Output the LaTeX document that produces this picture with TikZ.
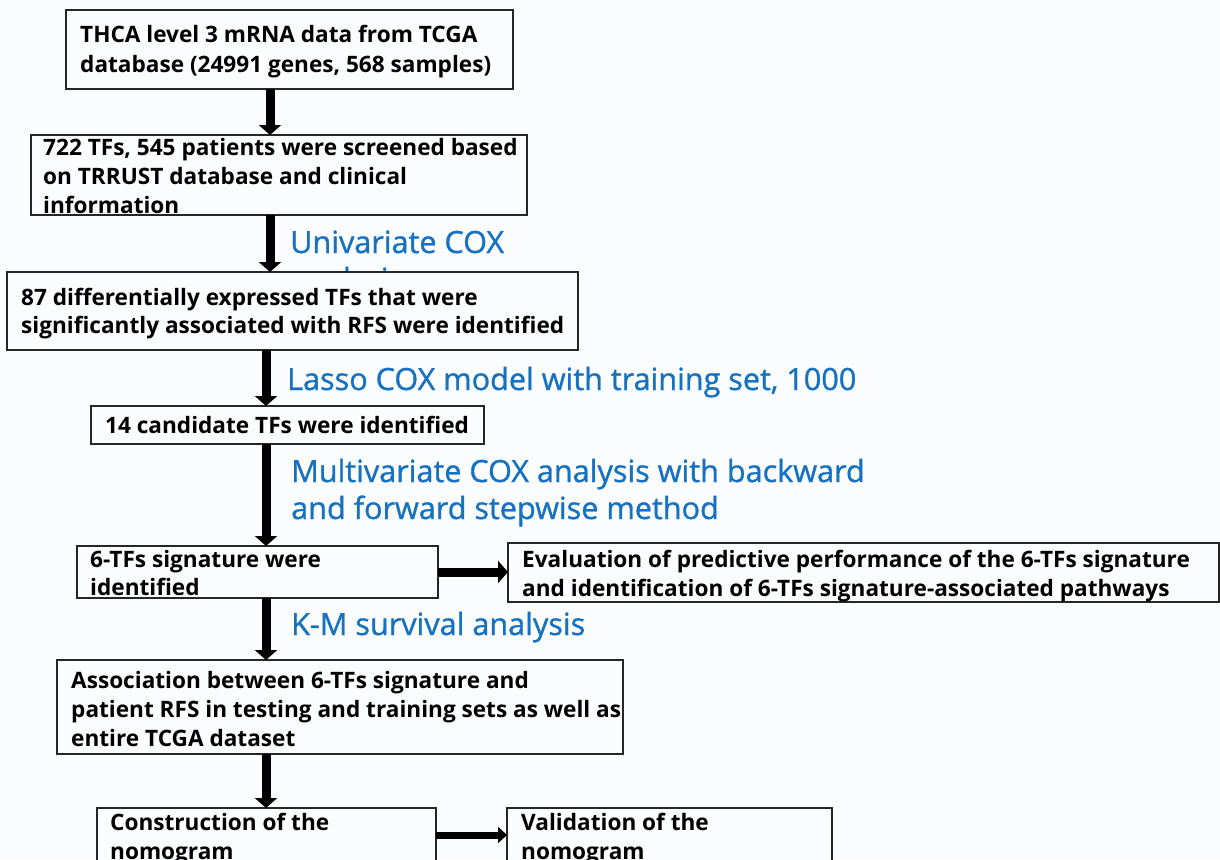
\documentclass[tikz,border=0pt]{standalone}
\usepackage{fontspec}
\setmainfont{Open Sans}
\newfontfamily\lblfont[FakeBold=1]{Open Sans}
\usetikzlibrary{arrows.meta}
\definecolor{bg}{RGB}{251,252,254}
\definecolor{lbl}{RGB}{22,114,192}
\tikzset{
  box/.style={draw=black!85,line width=1.8pt,fill=bg,anchor=north west,inner sep=0pt,outer sep=0pt},
  txt/.style={anchor=base west,inner sep=0pt,font=\fontsize{22.6}{26}\selectfont\bfseries},
  lab/.style={anchor=base west,inner sep=0pt,text=lbl,font=\lblfont\fontsize{30.6}{35}\selectfont},
  arr/.style={line width=9pt,-{Triangle[width=22pt,length=10pt]}},
  arrh/.style={line width=7pt,-{Triangle[width=16pt,length=9pt]}},
}
\begin{document}
\begin{tikzpicture}[x=1pt,y=-1pt]
\useasboundingbox (0,0) rectangle (1220,859);
\clip (0,0) rectangle (1220,859);
\fill[bg] (0,0) rectangle (1220,859);
% blue labels
\node[lab] (l1a) at (290,253) {Univariate COX};
\node[lab] (l1b) at (290,290) {analysis};
\node[lab] (l2) at (287,390) {Lasso COX model with training set, 1000};
\node[lab] (l3a) at (291,482) {Multivariate COX analysis with backward};
\node[lab] (l3b) at (291,519) {and forward stepwise method};
\node[lab] (l4) at (291,635) {K-M survival analysis};
% boxes
\node[box,minimum width=447pt,minimum height=79pt] (b1) at (66,10) {};
\node[box,minimum width=496pt,minimum height=80pt] (b2) at (31,135) {};
\node[box,minimum width=571pt,minimum height=78pt] (b3) at (7,272) {};
\node[box,minimum width=393pt,minimum height=38pt] (b4) at (91,406) {};
\node[box,minimum width=361pt,minimum height=52pt] (b5) at (77,546) {};
\node[box,minimum width=711pt,minimum height=59pt] (b6) at (508,543) {};
\node[box,minimum width=566pt,minimum height=94pt] (b7) at (57,660) {};
\node[box,minimum width=339pt,minimum height=80pt] (b8) at (97,808) {};
\node[box,minimum width=325pt,minimum height=80pt] (b9) at (507,808) {};
% box texts
\node[txt] (t1a) at (80,43) {THCA level 3 mRNA data from TCGA};
\node[txt] (t1b) at (80,73) {database (24991 genes, 568 samples)};
\node[txt] (t2a) at (43,155) {722 TFs, 545 patients were screened based};
\node[txt] (t2b) at (43,184) {on TRRUST database and clinical};
\node[txt] (t2c) at (43,213) {information};
\node[txt] (t3a) at (21,305) {87 differentially expressed TFs that were};
\node[txt] (t3b) at (21,333) {significantly associated with RFS were identified};
\node[txt] (t4) at (105,433) {14 candidate TFs were identified};
\node[txt] (t5a) at (90,567) {6-TFs signature were};
\node[txt] (t5b) at (90,595) {identified};
\node[txt] (t6a) at (522,567) {Evaluation of predictive performance of the 6-TFs signature};
\node[txt] (t6b) at (522,596) {and identification of 6-TFs signature-associated pathways};
\node[txt] (t7a) at (71,688) {Association between 6-TFs signature and};
\node[txt] (t7b) at (71,717) {patient RFS in testing and training sets as well as};
\node[txt] (t7c) at (71,746) {entire TCGA dataset};
\node[txt] (t8a) at (110,830) {Construction of the};
\node[txt] (t8b) at (110,859) {nomogram};
\node[txt] (t9a) at (521,830) {Validation of the};
\node[txt] (t9b) at (521,859) {nomogram};
% arrows
\coordinate (ax1) at (270,0);
\coordinate (ax2) at (266,0);
\coordinate (ry) at (0,835);
\draw[arr] (b1.south -| ax1) -- (b2.north -| ax1);
\draw[arr] (b2.south -| ax1) -- (b3.north -| ax1);
\draw[arr] (b3.south -| ax2) -- (b4.north -| ax2);
\draw[arr] (b4.south -| ax2) -- (b5.north -| ax2);
\draw[arr] (b5.south -| ax2) -- (b7.north -| ax2);
\draw[arr] (b7.south -| ax2) -- (b8.north -| ax2);
\draw[arr] (b5.east) -- (b5.east -| b6.west);
\draw[arrh] (b8.east |- ry) -- (b9.west |- ry);
\end{tikzpicture}
\end{document}
